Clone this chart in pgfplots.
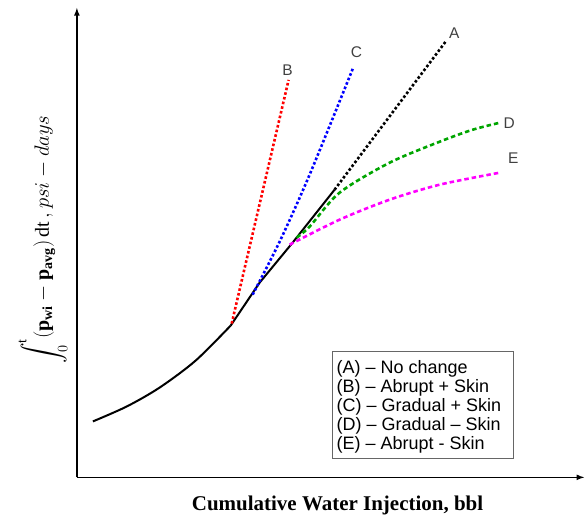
\documentclass[border=0pt]{standalone}
\usepackage{fontspec}
\usepackage{amsmath}
\setmainfont{Liberation Serif}
\newfontfamily\sansfont[Ligatures=TeX]{Liberation Sans}
\usepackage{pgfplots}
\pgfplotsset{compat=1.18}
\definecolor{cgreen}{RGB}{0,165,0}
\definecolor{cmag}{RGB}{255,0,255}
\definecolor{cblue}{RGB}{0,0,255}
\definecolor{cred}{RGB}{255,0,0}
\begin{document}
\begin{tikzpicture}
\begin{axis}[
  width=585pt, height=520pt, scale only axis,
  xmin=0, xmax=585, ymin=0, ymax=520,
  hide axis, clip=false,
]
% invisible frame to fix the bounding box
\path (axis cs:0,0) rectangle (axis cs:585,520);
% axes with arrows
\draw[line width=1.6pt, -latex] (axis cs:77,42) -- (axis cs:77,512);
\draw[line width=1.6pt, -latex] (axis cs:77,42) -- (axis cs:585,42);

% black solid base curve
\addplot[black, line width=2pt, smooth] coordinates {
 (93,98) (127,113) (160,132) (196,159) (231,194)
};
\addplot[black, line width=2pt] coordinates {
 (231,194) (260,237) (293,277) (335,330)
};
% A: black dotted continuation
\addplot[black, line width=2.6pt, dash pattern=on 2.6pt off 2.2pt] coordinates {
 (335,330) (446,478)
};
% B: red
\addplot[cred, line width=2.6pt, dash pattern=on 2.6pt off 2.2pt] coordinates {
 (232,196) (289,440)
};
% C: blue
\addplot[cblue, line width=2.6pt, dash pattern=on 2.6pt off 2.2pt, smooth] coordinates {
 (253,225) (280,278) (310,345) (354,453)
};
% D: green
\addplot[cgreen, line width=2.6pt, dash pattern=on 4.5pt off 3pt, smooth] coordinates {
 (297,282) (310,293) (340,327) (390,357) (440,378) (473,390) (500,397)
};
% E: magenta
\addplot[cmag, line width=2.6pt, dash pattern=on 4.5pt off 3pt, smooth] coordinates {
 (290,275) (340,300) (390,320) (440,335) (500,347)
};

% curve labels
\begin{scope}[every node/.style={font=\sansfont\fontsize{15.5}{17}\selectfont, text=black!75}]
\node at (axis cs:455,487) {A};
\node at (axis cs:288,450) {B};
\node at (axis cs:357,468) {C};
\node at (axis cs:510,397) {D};
\node at (axis cs:514,362) {E};
\end{scope}

% legend box
\draw[black!60, line width=0.8pt] (axis cs:333,61) rectangle (axis cs:514,168);
\node[anchor=north west, align=left, inner sep=0pt,
      font=\sansfont\fontsize{18}{19}\selectfont]
  at (axis cs:337,159) {(A) – No change\\(B) – Abrupt + Skin\\(C) – Gradual + Skin\\(D) – Gradual – Skin\\(E) – Abrupt - Skin};

% axis labels
\node[font=\bfseries\fontsize{21}{24}\selectfont] at (axis cs:338,14) {Cumulative Water Injection, bbl};
\node[rotate=90, inner sep=0pt, font=\fontsize{20}{24}\selectfont] at (axis cs:43,280)
  {$\displaystyle\int_0^{\mathrm{t}}\!\left(\mathbf{p}_{\mathbf{wi}} - \mathbf{p}_{\mathbf{avg}}\right)\mathrm{dt}\,, psi - days$};
\end{axis}
\end{tikzpicture}
\end{document}
